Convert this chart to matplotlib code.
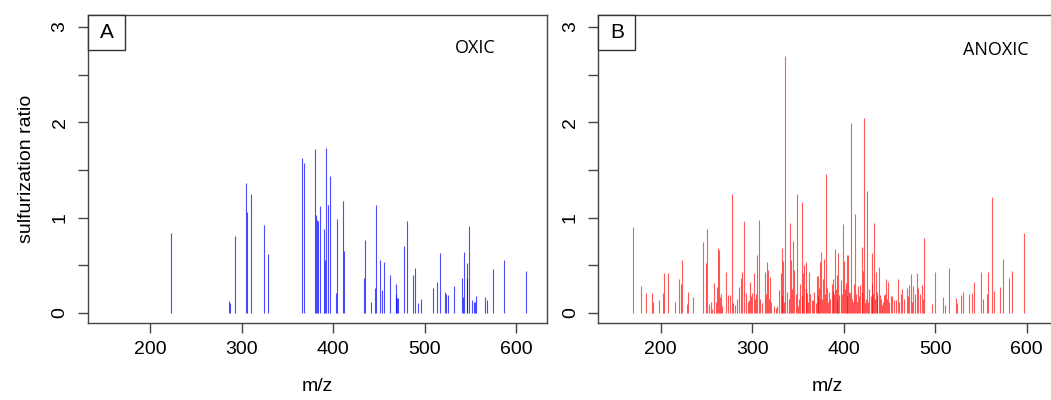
import matplotlib
matplotlib.use('Agg')
from matplotlib import pyplot as plt
from matplotlib.patches import Rectangle

plt.rcParams['font.family'] = ['Liberation Sans', 'DejaVu Sans']

# panel A, oxic
oxic_mz = [222.3, 286.0, 287.4, 292.6, 305.0, 306.0, 310.0, 324.0, 328.3, 366.0,
           368.3, 379.7, 380.6, 381.8, 383.0, 385.0, 389.8, 391.0, 392.0, 394.6,
           396.0, 403.3, 404.4, 410.3, 411.7, 433.5, 434.3, 441.2, 445.2, 447.0,
           450.7, 452.9, 455.0, 462.0, 468.2, 468.8, 470.0, 471.0, 477.0, 480.2,
           487.0, 489.0, 492.2, 495.8, 509.0, 513.0, 517.0, 521.7, 523.5, 525.7,
           532.0, 541.0, 541.5, 542.8, 545.8, 546.3, 548.0, 552.0, 553.8, 554.9,
           556.0, 565.8, 568.0, 574.2, 586.2, 610.3]
oxic_ratio = [0.84, 0.13, 0.11, 0.81, 1.36, 1.06, 1.25, 0.92, 0.62, 1.63,
              1.57, 1.72, 1.03, 0.98, 0.96, 1.12, 0.88, 0.56, 1.73, 1.13,
              1.44, 0.21, 0.99, 1.17, 0.65, 0.37, 0.77, 0.12, 0.26, 1.13,
              0.56, 0.24, 0.53, 0.40, 0.30, 0.20, 0.16, 0.16, 0.70, 0.97,
              0.40, 0.47, 0.11, 0.15, 0.26, 0.33, 0.63, 0.22, 0.20, 0.19,
              0.28, 0.37, 0.17, 0.64, 0.52, 0.37, 0.91, 0.14, 0.12, 0.12,
              0.18, 0.17, 0.14, 0.46, 0.56, 0.44]

# panel B, anoxic (main peaks)
anoxic_mz = [170.2, 178.2, 184.0, 190.3, 192.0, 198.6, 202.3, 204.0, 207.8, 216.0,
             220.4, 222.3, 223.4, 228.5, 230.3, 235.0, 246.0, 250.0, 251.0, 253.2,
             256.0, 258.0, 260.2, 261.3, 262.4, 263.8, 264.5, 267.5, 271.8, 273.3,
             275.8, 277.7, 279.5, 286.0, 287.9, 289.3, 291.1, 293.3, 296.3, 298.1,
             300.0, 301.7, 303.5, 305.7, 307.9, 314.0, 316.0, 317.5, 319.7, 324.4,
             327.0, 329.7, 331.2, 333.0, 334.0, 336.3, 341.7, 342.5, 345.0, 346.3,
             349.0, 350.4, 354.2, 356.0, 357.0, 358.5, 360.0, 362.2, 365.0, 366.8,
             370.6, 372.4, 374.2, 375.3, 377.0, 378.5, 380.4, 381.5, 388.0, 388.7,
             390.6, 392.4, 394.2, 395.3, 396.8, 399.7, 400.8, 402.6, 404.0, 405.2,
             407.0, 408.4, 410.6, 412.5, 416.1, 418.0, 419.8, 421.0, 422.0, 423.5,
             425.2, 431.4, 433.2, 435.0, 437.0, 438.7, 439.8, 442.3, 444.6, 446.3,
             448.5, 451.4, 455.0, 459.0, 462.3, 464.1, 468.8, 471.0, 473.3, 476.3,
             480.2, 481.7, 483.5, 485.4, 487.5, 496.3, 499.6, 508.7, 510.5, 515.2,
             522.5, 524.3, 528.3, 530.5, 536.7, 540.3, 542.2, 550.5, 552.4, 556.7,
             558.2, 562.2, 564.0, 570.6, 573.9, 580.5, 584.0, 597.5]
anoxic_ratio = [0.90, 0.28, 0.21, 0.21, 0.12, 0.14, 0.21, 0.42, 0.42, 0.12,
                0.36, 0.30, 0.56, 0.09, 0.22, 0.17, 0.74, 0.52, 0.88, 0.09,
                0.04, 0.31, 0.12, 0.27, 0.68, 0.66, 0.17, 0.07, 0.43, 0.19,
                0.19, 1.25, 0.11, 0.27, 0.37, 0.43, 0.96, 0.21, 0.14, 0.32,
                0.21, 0.42, 0.15, 0.61, 0.98, 0.43, 0.54, 0.45, 0.38, 0.07,
                0.07, 0.24, 0.42, 0.68, 0.55, 2.70, 0.94, 0.56, 0.76, 0.45,
                1.25, 0.07, 1.16, 0.42, 0.50, 0.54, 0.21, 0.43, 0.14, 0.14,
                0.39, 0.39, 0.53, 0.64, 0.36, 0.57, 1.46, 0.26, 0.23, 0.36,
                0.67, 0.40, 0.63, 0.19, 0.35, 0.93, 0.55, 0.31, 0.61, 0.61,
                0.21, 1.99, 0.12, 1.04, 0.28, 0.29, 0.69, 0.44, 2.05, 0.10,
                1.28, 0.63, 0.94, 0.43, 0.19, 0.48, 0.19, 0.08, 0.19, 0.36,
                0.32, 0.18, 0.14, 0.36, 0.20, 0.25, 0.26, 0.29, 0.41, 0.28,
                0.42, 0.26, 0.20, 0.29, 0.79, 0.09, 0.43, 0.17, 0.08, 0.47,
                0.16, 0.11, 0.19, 0.22, 0.20, 0.21, 0.32, 0.43, 0.15, 0.20,
                0.43, 1.22, 0.23, 0.27, 0.57, 0.37, 0.44, 0.84]

# panel B, small background peaks
anoxic_minor_mz = [255.0, 265.5, 281.0, 284.0, 295.0, 299.0, 304.6, 309.0, 311.0, 315.0,
                   318.5, 321.0, 326.0, 332.2, 335.2, 338.5, 340.0, 343.5, 347.5, 351.5,
                   352.8, 355.0, 359.3, 361.0, 363.5, 368.0, 369.5, 371.5, 373.3, 376.1,
                   379.4, 382.6, 384.0, 385.5, 387.0, 389.6, 391.5, 393.3, 398.0, 401.7,
                   403.3, 406.1, 409.5, 411.5, 413.5, 414.8, 417.0, 420.5, 424.3, 426.5,
                   428.0, 429.6, 430.5, 432.3, 434.1, 436.0, 441.0, 443.5, 445.5, 447.5,
                   450.0, 453.0, 457.0, 460.5, 466.0, 470.0, 475.0, 478.0, 486.5]
anoxic_minor_ratio = [0.12, 0.20, 0.08, 0.15, 0.12, 0.18, 0.20, 0.15, 0.10, 0.20,
                      0.15, 0.12, 0.05, 0.18, 0.12, 0.22, 0.15, 0.25, 0.20, 0.15,
                      0.30, 0.18, 0.25, 0.12, 0.20, 0.22, 0.10, 0.18, 0.26, 0.15,
                      0.20, 0.12, 0.22, 0.15, 0.30, 0.20, 0.25, 0.15, 0.20, 0.25,
                      0.18, 0.22, 0.15, 0.30, 0.20, 0.12, 0.18, 0.22, 0.15, 0.12,
                      0.25, 0.18, 0.30, 0.20, 0.15, 0.22, 0.15, 0.12, 0.20, 0.15,
                      0.12, 0.18, 0.14, 0.12, 0.15, 0.18, 0.12, 0.20, 0.15]

y_ticks = [0, 0.5, 1, 1.5, 2, 2.5, 3]
y_labels = ['0', '', '1', '', '2', '', '3']
x_ticks = [200, 300, 400, 500, 600]

W, H = 1051, 400
ax_w, ax_h = 458.7, 308.3


def style_axes(ax):
    ax.set_xlim(131.9, 633.2)
    ax.set_ylim(-0.108, 3.126)
    ax.set_xticks(x_ticks)
    ax.set_yticks(y_ticks)
    ax.set_yticklabels(y_labels, rotation=90, va='center')
    ax.tick_params(direction='out', length=7, width=1, color='#444444',
                   labelsize=14, pad=6)
    ax.tick_params(axis='y', pad=7)
    for s in ax.spines.values():
        s.set_color('#444444')
        s.set_linewidth(1)
    ax.set_xlabel('m/z', fontsize=14, labelpad=14)


def panel_tag(ax, letter):
    bw, bh = 37 / ax_w, 35 / ax_h
    ax.add_patch(Rectangle((0, 1 - bh), bw, bh, transform=ax.transAxes,
                           facecolor='white', edgecolor='#333333', lw=1,
                           clip_on=False, zorder=5))
    ax.text(bw / 2, 1 - bh / 2, letter, transform=ax.transAxes, fontsize=15,
            ha='center', va='center', zorder=6)


fig = plt.figure(figsize=(W / 100, H / 100), dpi=100)
ax1 = fig.add_axes([88 / W, 1 - 323.3 / H, ax_w / W, ax_h / H])
ax2 = fig.add_axes([598.3 / W, 1 - 323.3 / H, ax_w / W, ax_h / H])

ax1.vlines(oxic_mz, 0, oxic_ratio, colors=[(0, 0, 1, 0.7)], lw=0.8)
ax2.vlines(anoxic_minor_mz, 0, anoxic_minor_ratio, colors=[(1, 0, 0, 0.65)], lw=0.8)
ax2.vlines(anoxic_mz, 0, anoxic_ratio, colors=[(1, 0, 0, 0.65)], lw=0.8)

for ax in (ax1, ax2):
    style_axes(ax)

ax1.set_ylabel('sulfurization ratio', fontsize=14, labelpad=12)
panel_tag(ax1, 'A')
panel_tag(ax2, 'B')

ax1.text(0.845, 0.893, 'OXIC', transform=ax1.transAxes, fontsize=13,
         family=['Open Sans', 'DejaVu Sans'], ha='center', va='center')
ax2.text(0.866, 0.885, 'ANOXIC', transform=ax2.transAxes, fontsize=13,
         family=['Open Sans', 'DejaVu Sans'], ha='center', va='center')

fig.savefig('out.png', dpi=100)
